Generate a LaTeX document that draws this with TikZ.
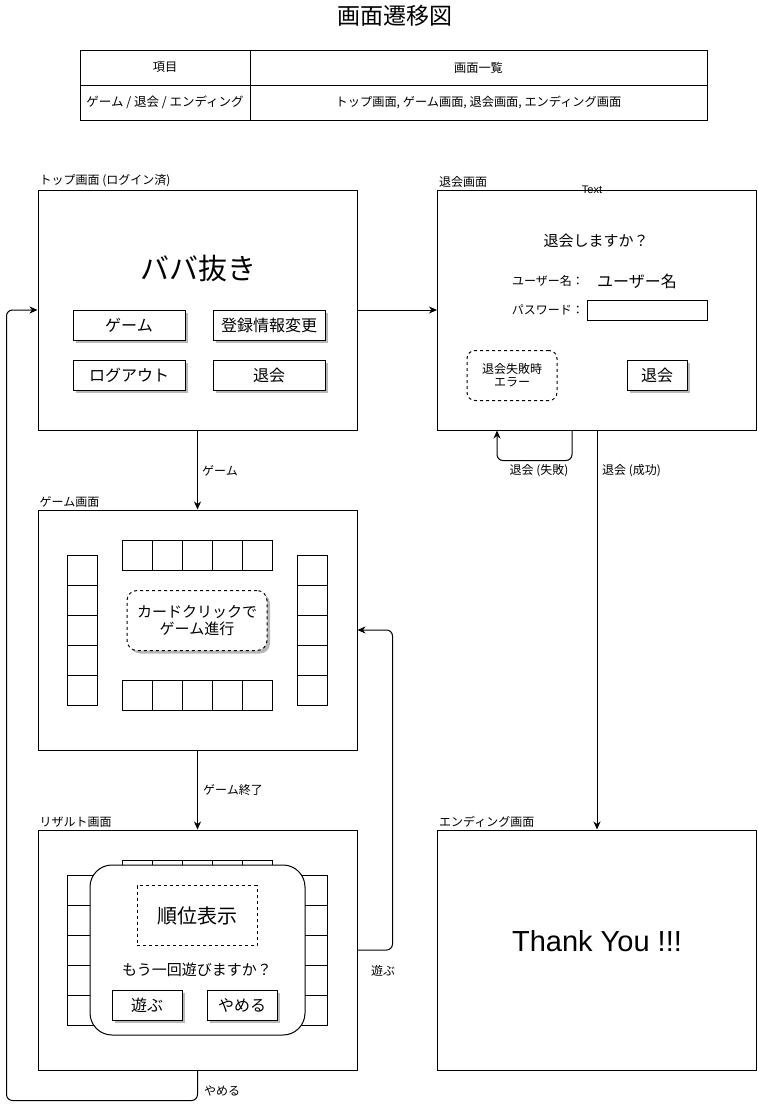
\documentclass[tikz,border=0pt]{standalone}
\usepackage{fontspec}
\setmainfont{Noto Sans CJK JP}
\newfontfamily\lat{Liberation Sans}
\usetikzlibrary{arrows.meta,shadows}
\newcommand\fsz[1]{\fontsize{#1}{#1}\selectfont}
\tikzset{
  screen/.style={draw, line width=1pt, minimum width=319pt, minimum height=240pt, inner sep=0pt},
  lbl/.style={font=\fsz{12}, anchor=south west, inner sep=1pt},
  elbl/.style={font=\fsz{12}, inner sep=1pt},
  shad/.style={drop shadow={shadow xshift=3pt, shadow yshift=-3pt, fill=black!28, opacity=1}},
  btn/.style={draw, fill=white, line width=1pt, minimum width=112pt, minimum height=30pt, inner sep=0pt, font=\fsz{16}, shad},
  card/.style={draw, line width=1pt, minimum width=30pt, minimum height=30pt, inner sep=0pt},
  cell/.style={draw, line width=1pt, minimum height=35pt, inner sep=0pt, font=\fsz{12.2}},
  dsh/.style={draw, line width=1pt, dash pattern=on 3pt off 3pt},
  arr/.style={-{Stealth[length=8pt,width=7pt,inset=2.5pt]}, line width=1pt},
  conn/.style={arr, rounded corners=6pt},
}
\begin{document}
\begin{tikzpicture}[x=1pt,y=-1pt]
\useasboundingbox (0,0) rectangle (758,1109);

% title
\node[font=\fsz{23}] (title) at (395,16) {画面遷移図};

% table
\node[cell, minimum width=170pt] (h1) at (165,67.5) {項目};
\node[cell, minimum width=457pt] (h2) at (478.5,67.5) {画面一覧};
\node[cell, minimum width=170pt, font=\fsz{12.5}] (r1) at (165,102.5) {ゲーム / 退会 / エンディング};
\node[cell, minimum width=457pt] (r2) at (478.5,102.5) {トップ画面, ゲーム画面, 退会画面, エンディング画面};

% ---------- top screen ----------
\node[screen] (top) at (197.5,310) {};
\node[lbl] (toplbl) at ([xshift=1pt,yshift=1pt]top.north west) {トップ画面 (ログイン済)};
\node[font=\fsz{29}] (babanuki) at (198,269) {ババ抜き};
\node[btn] (bgame) at (129,325) {ゲーム};
\node[btn] (bedit) at (269,325) {登録情報変更};
\node[btn] (blogout) at (129,375) {ログアウト};
\node[btn] (bwd) at (269,375) {退会};

% ---------- withdraw screen ----------
\node[screen] (wd) at (597,310) {};
\node[lbl] (wdlbl) at ([xshift=1pt,yshift=1pt]wd.north west) {退会画面};
\node[font=\lat\fontsize{11}{11}\selectfont, inner sep=0pt] (txt) at (592,190) {Text};
\node[font=\fsz{15}] (ask) at (596,241) {退会しますか？};
\node[font=\fsz{12}] (unl) at (548,281) {ユーザー名：};
\node[font=\fsz{16}] (unv) at (637,281) {ユーザー名};
\node[font=\fsz{12}, anchor=east, inner sep=1pt] (pwl) at (585,310) {パスワード：};
\node[draw, line width=1pt, minimum width=120pt, minimum height=20pt, inner sep=0pt] (pwbox) at (647,310) {};
\node[dsh, rounded corners=8pt, minimum width=90pt, minimum height=50pt, inner sep=0pt, align=center, font=\fsz{12}] (err) at (512,375.5) {退会失敗時\\[1pt]エラー};
\node[btn, minimum width=60pt] (wdbtn) at (657,375) {退会};

% ---------- game screen ----------
\node[screen] (game) at (197.5,630) {};
\node[lbl] (gamelbl) at ([xshift=1pt,yshift=1pt]game.north west) {ゲーム画面};
\foreach \i in {0,...,4} {
  \node[card] (gt\i) at (137+30*\i,555) {};
  \node[card] (gb\i) at (137+30*\i,695) {};
  \node[card] (gl\i) at (82,570+30*\i) {};
  \node[card] (gr\i) at (312,570+30*\i) {};
}
\node[dsh, rounded corners=10pt, fill=white, shad, minimum width=140pt, minimum height=60pt, inner sep=0pt, align=center, font=\fsz{15}] (click) at (197,620.5) {カードクリックで\\[2pt]ゲーム進行};

% ---------- result screen ----------
\node[screen] (res) at (197.5,950) {};
\node[lbl] (reslbl) at ([xshift=1pt,yshift=1pt]res.north west) {リザルト画面};
\foreach \i in {0,...,4} {
  \node[card] (rt\i) at (137+30*\i,875) {};
  \node[card] (rl\i) at (82,890+30*\i) {};
  \node[card] (rr\i) at (312,890+30*\i) {};
}
\node[draw, line width=1pt, fill=white, rounded corners=22pt, minimum width=215pt, minimum height=170pt, inner sep=0pt] (pop) at (197.5,950) {};
\node[dsh, minimum width=120pt, minimum height=60pt, inner sep=0pt, font=\fsz{20}] (rank) at (197,915.5) {順位表示};
\node[font=\fsz{15}] (again) at (197,970) {もう一回遊びますか？};
\node[btn, minimum width=70pt] (bplay) at (147,1005) {遊ぶ};
\node[btn, minimum width=70pt] (bquit) at (242,1005) {やめる};

% ---------- ending screen ----------
\node[screen] (end) at (597,950) {};
\node[lbl] (endlbl) at ([xshift=1pt,yshift=1pt]end.north west) {エンディング画面};
\node[font=\lat\fontsize{29}{29}\selectfont] (thanks) at (597,941) {Thank You !!!};

% ---------- connectors ----------
\draw[arr] (top.east) -- (wd.west);
\draw[arr] (top.south) -- (game.north);
\node[elbl, anchor=west] (lgame) at (201,471) {ゲーム};
\draw[arr] (game.south) -- (res.north);
\node[elbl, anchor=west] (lgend) at (202,790) {ゲーム終了};
\draw[conn] (res.east) -| ([xshift=35pt]game.east) -- (game.east);
\node[elbl] (lplay) at (383,971) {遊ぶ};
\draw[conn] (res.south) -- ++(0,30) -| ([xshift=-31pt]top.west) -- (top.west);
\node[elbl, anchor=west] (lquit) at (203,1091) {やめる};
\draw[conn] ([xshift=-25pt]wd.south) -- ++(0,30) -| ([xshift=-100pt]wd.south);
\node[elbl] (lfail) at (539,471) {退会 (失敗)};
\draw[arr] (wd.south) -- (end.north);
\node[elbl, anchor=west] (lok) at (601,471) {退会 (成功)};
\end{tikzpicture}
\end{document}
